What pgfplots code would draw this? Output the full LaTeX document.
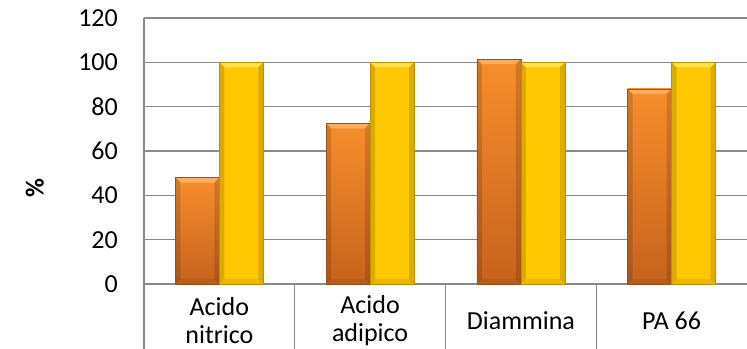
\documentclass[border=0pt]{standalone}
\usepackage{pgfplots}
\pgfplotsset{compat=1.18}
\usepackage{fontspec}
\setmainfont{Carlito}

\definecolor{gridgray}{HTML}{8A8A8A}
\definecolor{orTop}{HTML}{F78E2C}
\definecolor{orBot}{HTML}{C6631D}
\definecolor{orEdge}{HTML}{9A5217}
\definecolor{orHi}{HTML}{FBAE63}
\definecolor{ylMain}{HTML}{FFC800}
\definecolor{ylEdge}{HTML}{BF9000}
\definecolor{ylHi}{HTML}{FFE14D}

\newcommand{\chartfont}{\fontsize{26bp}{28bp}\selectfont}

% corners of the column being decorated, optionally offset
\newcommand{\ppb}[1]{\pgfpointanchor{path picture bounding box}{#1}}
\newcommand{\ppbo}[3]{\pgfpointadd{\ppb{#1}}{\pgfpoint{#2}{#3}}}
% filled quadrilateral on the basic layer (no inherited TikZ options)
\newcommand{\quadfill}[6]{%
  \begin{pgfscope}#1\pgfsetfillopacity{#2}%
  \pgfpathmoveto{#3}\pgfpathlineto{#4}\pgfpathlineto{#5}\pgfpathlineto{#6}%
  \pgfpathclose\pgfusepath{fill}\end{pgfscope}}

% bevelled column: light top face, darker side and bottom rims
\tikzset{
  bevel/.style={
    path picture={%
      \quadfill{\pgfsetfillcolor{#1}}{1}{\ppb{north west}}{\ppb{north east}}%
        {\ppbo{north east}{-5bp}{-5bp}}{\ppbo{north west}{5bp}{-5bp}}%
      \quadfill{\pgfsetfillcolor{black}}{0.14}{\ppb{north west}}{\ppbo{north west}{5bp}{-5bp}}%
        {\ppbo{south west}{5bp}{5bp}}{\ppb{south west}}%
      \quadfill{\pgfsetfillcolor{black}}{0.14}{\ppb{north east}}{\ppbo{north east}{-5bp}{-5bp}}%
        {\ppbo{south east}{-5bp}{5bp}}{\ppb{south east}}%
      \quadfill{\pgfsetfillcolor{black}}{0.08}{\ppb{south west}}{\ppbo{south west}{5bp}{5bp}}%
        {\ppbo{south east}{-5bp}{5bp}}{\ppb{south east}}%
    }},
  orbar/.style={draw=orEdge, line width=0.6bp, top color=orTop, bottom color=orBot,
    bevel=orHi, bar shift=-22bp},
  ylbar/.style={draw=ylEdge, line width=0.6bp, fill=ylMain,
    bevel=ylHi, bar shift=22bp},
}

\begin{document}
\begin{tikzpicture}
\useasboundingbox (0,0) rectangle (747bp,349bp);
\begin{axis}[
  at={(144bp,65bp)}, anchor=south west,
  scale only axis, width=603bp, height=266bp,
  xmin=-0.5, xmax=3.5, ymin=0, ymax=120,
  ytick={0,20,...,120},
  xtick={0,1,2,3},
  xticklabels={{Acido\\nitrico},{Acido\\adipico},{Diammina},{PA 66}},
  xticklabel style={align=center, anchor=center, yshift=-37bp, font=\chartfont},
  yticklabel style={font=\chartfont, anchor=east, inner sep=0pt, xshift=-26bp},
  /pgf/number format/assume math mode=true,
  major tick length=0pt,
  axis lines*=left,
  axis line style={gridgray, line width=1.2bp},
  ymajorgrids, grid style={gridgray, line width=1.2bp},
  extra x ticks={-0.5,0.5,1.5,2.5},
  extra x tick labels={},
  extra x tick style={xmajorgrids=false, major tick length=65bp, tick align=outside,
    tick style={gridgray, line width=1.2bp}},
  ylabel={\textbf{\%}},
  ylabel style={at={(axis description cs:-0.181,0.361)}, anchor=center, font=\chartfont},
  ybar=0pt, bar width=44bp,
  clip=false,
]
% one path per column so that each column gets its own shading
\addplot[orbar] coordinates {(0,48)};
\addplot[orbar] coordinates {(1,72.5)};
\addplot[orbar] coordinates {(2,101.5)};
\addplot[orbar] coordinates {(3,88)};
\addplot[ylbar] coordinates {(0,100)};
\addplot[ylbar] coordinates {(1,100)};
\addplot[ylbar] coordinates {(2,100)};
\addplot[ylbar] coordinates {(3,100)};
\end{axis}
\end{tikzpicture}
\end{document}
